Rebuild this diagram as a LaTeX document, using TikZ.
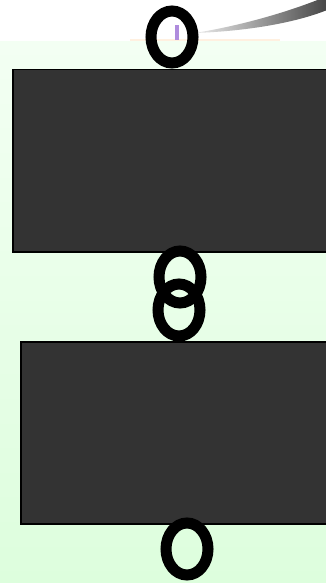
\documentclass[tikz,border=0pt]{standalone}
\usetikzlibrary{shapes.geometric}
\definecolor{boxgray}{HTML}{333333}
\definecolor{mintpale}{HTML}{F3FFF3}
\definecolor{mintdeep}{HTML}{DDFEDD}
\tikzset{
  block/.style={draw=black,line width=1.5pt,fill=boxgray,anchor=north west,
    minimum width=330pt,minimum height=182pt,inner sep=0pt},
  port/.style={draw=black,line width=11pt,ellipse,inner sep=0pt,
    minimum width=42pt,minimum height=52pt}
}
\begin{document}
\begin{tikzpicture}[x=1pt,y=-1pt]
		  \useasboundingbox (0,0) rectangle (326,583);
		  \clip (0,0) rectangle (326,583);
		  % backdrop
		  \fill[white] (0,0) rectangle (326,42);
		  \shade[top color=mintpale,bottom color=mintdeep] (0,42) rectangle (326,583);
		  \fill[orange!12] (130,39) rectangle (280,41);
		  \shade[left color=gray!15,right color=black!75] (195,33) .. controls (250,31) and (300,22) .. (332,8)
		    -- (332,-6) .. controls (300,8) and (250,24) .. (195,33) -- cycle;
		  \fill[blue!40!violet!45] (175,25) rectangle (179,40);
		  % blocks
		  \node[block] (upper) at (12,69) {};
		  \node[block] (lower) at (20,341) {};
		  % ports
		  \node[port] (inA) at (172,37) {};
		  \node[port] (outA) at (180,277) {};
		  \node[port] (inB) at (179,310) {};
		  \node[port] (outB) at (187,549) {};
\end{tikzpicture}
\end{document}
